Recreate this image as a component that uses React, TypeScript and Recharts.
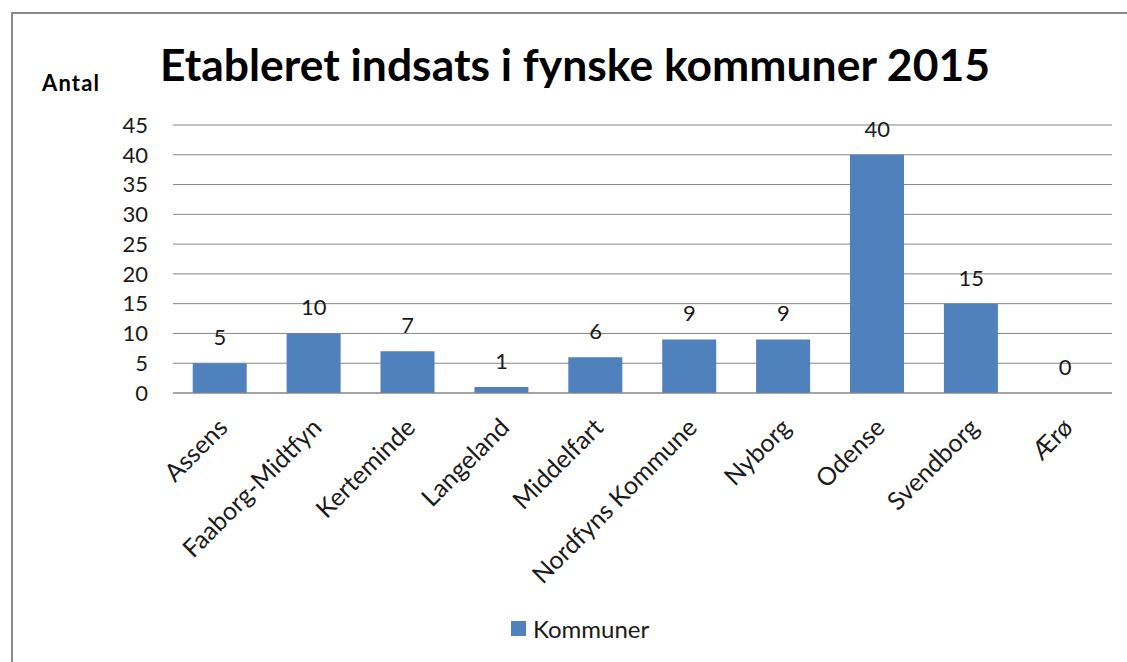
import { ComposedChart, Bar, Line, XAxis, YAxis, CartesianGrid, LabelList } from "recharts";

const categories = [
  "Assens",
  "Faaborg-Midtfyn",
  "Kerteminde",
  "Langeland",
  "Middelfart",
  "Nordfyns Kommune",
  "Nyborg",
  "Odense",
  "Svendborg",
  "Ærø",
];
const kommuner = [5, 10, 7, 1, 6, 9, 9, 40, 15, 0];
const yTicks = [0, 5, 10, 15, 20, 25, 30, 35, 40, 45];

const seriesName = "Kommuner";
const title = "Etableret indsats i fynske kommuner 2015";
const yTitle = "Antal";

const BAR = "#4F81BD";
const GRID = "#868686";
const TEXT = "#1a1a1a";
const FONT = "Lato, 'Open Sans', sans-serif";

const chartData = categories.map((name, i) => ({ name, value: kommuner[i] }));

function AngledTick(props: any) {
  const { x, y, payload } = props;
  return (
    <g transform={`translate(${x + 3},${y + 22})`}>
      <text
        x={0}
        y={0}
        dy="0.35em"
        textAnchor="end"
        transform="rotate(-45)"
        fill={TEXT}
        fontSize={25}
        fontFamily={FONT}
      >
        {payload.value}
      </text>
    </g>
  );
}

export default function App() {
  return (
    <div style={{ position: "absolute", left: 0, top: 0, width: 1127, height: 662, background: "#fff", overflow: "hidden" }}>
      <svg width={1127} height={662} style={{ position: "absolute", left: 0, top: 0 }}>
        {/* frame: only its left and top edges are in view */}
        <path d="M12,662 V13 H1127" fill="none" stroke="#8a8a8a" strokeWidth={2} />
        <text
          x={575}
          y={81}
          textAnchor="middle"
          fontFamily={FONT}
          fontWeight="bold"
          fontSize={44}
          textLength={830}
          lengthAdjust="spacingAndGlyphs"
          fill="#000"
        >
          {title}
        </text>
        <text x={42} y={91} fontFamily={FONT} fontWeight="bold" fontSize={22} textLength={57} fill="#000">
          {yTitle}
        </text>
      </svg>
      <div style={{ position: "absolute", left: 0, top: 0 }}>
        <ComposedChart
          width={1127}
          height={662}
          data={chartData}
          margin={{ top: 125, right: 15, left: 113, bottom: 19 }}
          barCategoryGap="21%"
        >
          <CartesianGrid vertical={false} stroke={GRID} strokeWidth={1} />
          <XAxis
            dataKey="name"
            interval={0}
            height={250}
            axisLine={{ stroke: GRID }}
            tickLine={false}
            tick={<AngledTick />}
          />
          <YAxis
            width={60}
            domain={[0, 45]}
            ticks={yTicks}
            interval={0}
            axisLine={false}
            tickLine={false}
            tickSize={0}
            tickMargin={25}
            tick={{ fill: TEXT, fontSize: 22, fontFamily: FONT }}
          />
          <Bar dataKey="value" name={seriesName} fill={BAR} isAnimationActive={false} />
          {/* invisible carrier for the value labels, so the zero bar gets its label too */}
          <Line
            dataKey="value"
            stroke="none"
            dot={false}
            activeDot={false}
            legendType="none"
            isAnimationActive={false}
          >
            <LabelList
              dataKey="value"
              position="top"
              offset={18}
              fill={TEXT}
              fontSize={22}
              fontFamily={FONT}
            />
          </Line>
        </ComposedChart>
      </div>
      <div
        style={{
          position: "absolute",
          left: 511,
          top: 614,
          display: "flex",
          alignItems: "center",
          fontFamily: FONT,
          fontSize: 24,
          color: TEXT,
        }}
      >
        <span style={{ width: 15, height: 15, background: BAR, display: "inline-block", marginRight: 7 }} />
        {seriesName}
      </div>
    </div>
  );
}
